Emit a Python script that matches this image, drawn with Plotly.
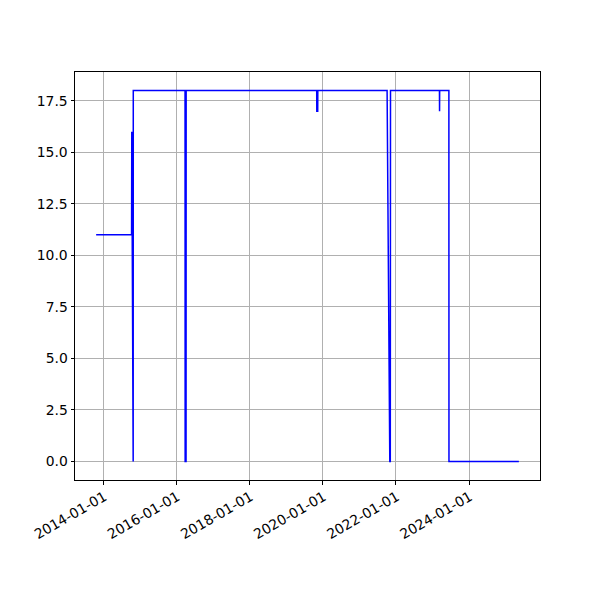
import pandas as pd
import plotly.graph_objects as go

dates = [
    "2013-10-21", "2014-10-10", "2014-10-12", "2014-10-20", "2014-10-26", "2014-10-27",
    "2016-03-27", "2016-03-28", "2016-04-06", "2016-04-07",
    "2019-11-02", "2019-11-03", "2019-11-12", "2019-11-13",
    "2021-10-05", "2021-11-01", "2021-11-06", "2021-11-08",
    "2023-03-12", "2023-03-13", "2023-03-14",
    "2023-06-14", "2023-06-15", "2025-05-13",
]
values = [
    11, 11, 16, 0, 0, 18,
    18, 0, 0, 18,
    18, 17, 17, 18,
    18, 0, 0, 18,
    18, 17, 18,
    18, 0, 0,
]
tick_dates = ["2014-01-01", "2016-01-01", "2018-01-01", "2020-01-01", "2022-01-01", "2024-01-01"]
y_ticks = [0, 2.5, 5, 7.5, 10, 12.5, 15, 17.5]

x = pd.to_datetime(dates)
span = x.max() - x.min()
xr = [x.min() - span * 0.05, x.max() + span * 0.05]
ymin, ymax = min(values), max(values)
yspan = ymax - ymin
yr = [ymin - yspan * 0.05, ymax + yspan * 0.05]

fig = go.Figure(go.Scatter(x=x, y=values, mode="lines",
                           line=dict(color="#0000ff", width=1.5)))

font = dict(family="DejaVu Sans", size=13.9, color="black")
axis_common = dict(showline=True, linecolor="black", linewidth=1, mirror=True,
                   showgrid=True, gridcolor="#b0b0b0", gridwidth=0.8,
                   ticks="outside", ticklen=3.5, tickwidth=0.8, tickcolor="black",
                   tickfont=font, zeroline=False)

fig.update_layout(
    width=600, height=600,
    margin=dict(l=67, r=68, t=64, b=128),
    paper_bgcolor="white", plot_bgcolor="white",
    showlegend=False,
    xaxis=dict(range=xr, tickmode="array", tickvals=pd.to_datetime(tick_dates),
               ticktext=tick_dates, tickangle=-30, ticklabelstandoff=-1,
               ticklabelshift=1, **axis_common),
    yaxis=dict(range=yr, tickmode="array", tickvals=y_ticks,
               ticktext=[f"{v:.1f}" for v in y_ticks], **axis_common),
)

fig.write_html("out.html")
